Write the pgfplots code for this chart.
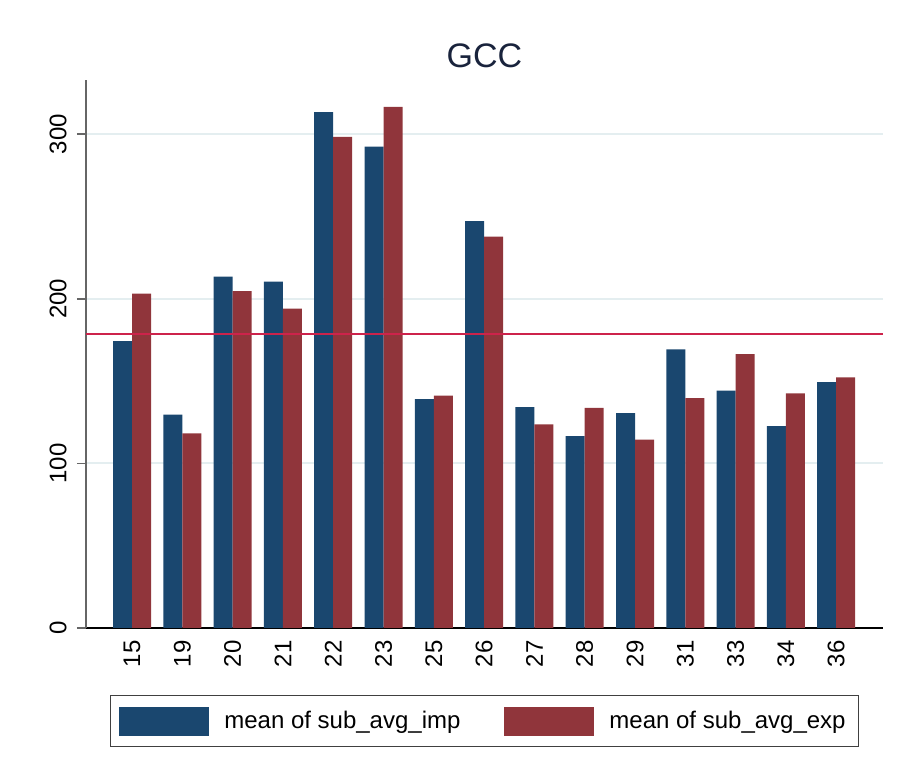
\documentclass[border=0pt]{standalone}
\usepackage{fontspec}
\setmainfont{Liberation Sans}
\usepackage{pgfplots}
\pgfplotsset{compat=1.18}
\definecolor{statanavy}{RGB}{26,71,111}
\definecolor{statamaroon}{RGB}{144,53,59}
\definecolor{meanline}{RGB}{205,35,75}
\definecolor{gridc}{RGB}{228,238,240}

% mean of sub_avg_imp / sub_avg_exp by group
\begin{document}
\begin{tikzpicture}
\path[use as bounding box] (0pt,0pt) rectangle (453.5pt,387pt);
\begin{axis}[
    at={(43pt,73pt)}, anchor=south west,
    scale only axis,
    width=398.5pt, height=274pt,
    xmin=-0.915, xmax=14.93,
    ymin=0, ymax=333,
    axis x line*=bottom, axis y line*=left,
    x axis line style={black, line width=0.7pt, -},
    y axis line style={black!60, line width=0.8pt, -},
    xtick={0,...,14},
    xticklabels={15,19,20,21,22,23,25,26,27,28,29,31,33,34,36},
    ytick={0,100,200,300},
    tick align=outside,
    major tick length=4.5pt,
    x tick style={draw=none},
    y tick style={black!60, line width=0.8pt},
    ymajorgrids, grid style={gridc, line width=1pt},
    tick label style={font=\fontsize{12}{14}\selectfont},
    /pgf/number format/assume math mode=true,
    x tick label style={rotate=90, anchor=east, inner sep=0pt},
    xticklabel shift=1.5pt,
    y tick label style={rotate=90, anchor=south, inner sep=0pt},
    yticklabel shift=5pt,
    title={GCC},
    title style={at={(0.5,1)}, anchor=base, yshift=0pt,
        font=\fontsize{17}{20}\selectfont, text={rgb,255:red,25;green,35;blue,60}},
    legend columns=2,
    legend style={at={(0.5,0)}, anchor=north, yshift=-33.5pt,
        draw=black!75, line width=0.7pt, inner xsep=4.5pt, inner ysep=5.5pt,
        font=\fontsize{12}{14}\selectfont,
        /tikz/every odd column/.append style={column sep=5.5pt},
        /tikz/every even column/.append style={column sep=20pt}},
    legend cell align=left,
]
\addplot[ybar, bar width=0.378, bar shift=-0.189, fill=statanavy, draw=none,
    legend image code/.code={\fill[statanavy] (0pt,-7.25pt) rectangle (45pt,7.25pt);}]
    coordinates {(0,174.3) (1,129.6) (2,213.5) (3,210.4) (4,313.4) (5,292.5) (6,139.1)
    (7,247.3) (8,134.2) (9,116.6) (10,130.6) (11,169.3) (12,144.2) (13,122.7) (14,149.4)};
\addlegendentry{mean of sub\_avg\_imp}
\addplot[ybar, bar width=0.378, bar shift=0.189, fill=statamaroon, draw=none,
    legend image code/.code={\fill[statamaroon] (0pt,-7.25pt) rectangle (45pt,7.25pt);}]
    coordinates {(0,203.2) (1,118.2) (2,204.7) (3,194.0) (4,298.4) (5,316.6) (6,141.2)
    (7,237.8) (8,123.7) (9,133.8) (10,114.4) (11,139.7) (12,166.4) (13,142.6) (14,152.3)};
\addlegendentry{mean of sub\_avg\_exp}
% overall mean line
\addplot[meanline, line width=1pt, forget plot] coordinates {(-0.915,178.8) (14.93,178.8)};
\end{axis}
\end{tikzpicture}
\end{document}
